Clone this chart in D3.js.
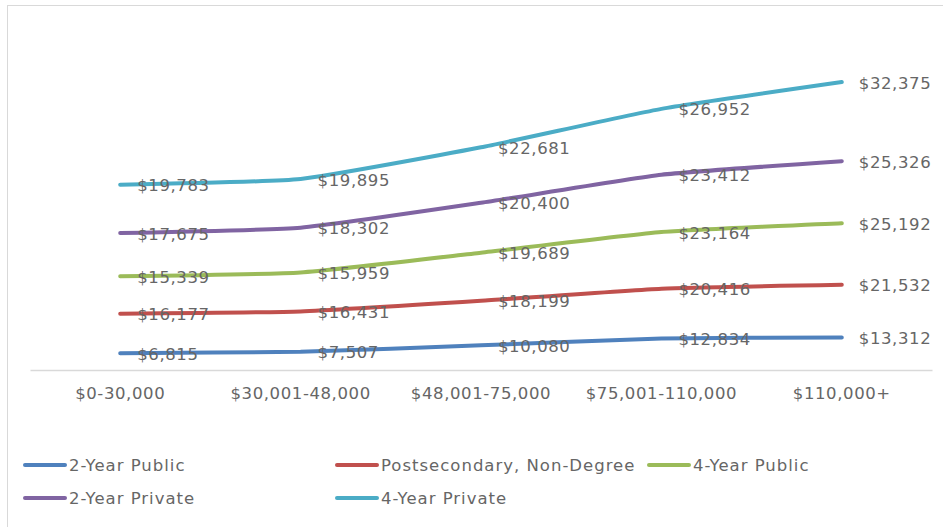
<!DOCTYPE html>
<html>
<head>
<meta charset="utf-8">
<script src="https://cdn.jsdelivr.net/npm/d3@7"></script>
<style>
  body { margin: 0; background: #fff; }
  svg { display: block; font-family: "DejaVu Sans", sans-serif; }
</style>
</head>
<body>
<svg id="chart" width="943" height="527"></svg>
<script>
// income brackets on the x axis
const categories = ['$0-30,000', '$30,001-48,000', '$48,001-75,000', '$75,001-110,000', '$110,000+'];

// series names, in stacking order (bottom first)
const seriesNames = ['2-Year Public', 'Postsecondary, Non-Degree', '4-Year Public', '2-Year Private', '4-Year Private'];

// values per series
const twoYearPublic   = [6815, 7507, 10080, 12834, 13312];
const postsecondary   = [16177, 16431, 18199, 20416, 21532];
const fourYearPublic  = [15339, 15959, 19689, 23164, 25192];
const twoYearPrivate  = [17675, 18302, 20400, 23412, 25326];
const fourYearPrivate = [19783, 19895, 22681, 26952, 32375];

const seriesValues = [twoYearPublic, postsecondary, fourYearPublic, twoYearPrivate, fourYearPrivate];
const colors = ['#4f81bd', '#c0504d', '#9bbb59', '#8064a2', '#4bacc6'];

const svg = d3.select('#chart');
const textColor = '#666666';
const fontSize = '16.5px';
const spacing = '0.6px';

// outer chart border (cropped on the right and bottom)
svg.append('rect')
    .attr('x', 7.5).attr('y', 5.5)
    .attr('width', 960).attr('height', 560)
    .attr('fill', 'none')
    .attr('stroke', '#d9d9d9')
    .attr('stroke-width', 1);

const plot = { left: 30, right: 932, top: 27.6, bottom: 370 };

const x = d3.scaleBand()
    .domain(categories)
    .range([plot.left, plot.right]);

// stacked line chart: cumulative totals
const stacked = d3.stack()
    .keys(d3.range(seriesNames.length))
    .value((d, k) => seriesValues[k][d])(d3.range(categories.length));

const y = d3.scaleLinear()
    .domain([0, 140000])
    .range([plot.bottom, plot.top]);

// x axis
const xAxis = svg.append('g')
    .attr('transform', `translate(0,${plot.bottom})`)
    .call(d3.axisBottom(x).tickSize(0).tickPadding(17));
xAxis.select('.domain').attr('stroke', '#d9d9d9').attr('stroke-width', 1.3);
xAxis.selectAll('text')
    .attr('fill', textColor)
    .style('font-size', fontSize)
    .style('letter-spacing', spacing)
    .style('font-family', '"DejaVu Sans", sans-serif');

const cx = d => x(d) + x.bandwidth() / 2;

const line = d3.line()
    .x((d, i) => cx(categories[i]))
    .y(d => y(d[1]))
    .curve(d3.curveCardinal.tension(0.55));

svg.append('g')
    .selectAll('path')
    .data(stacked)
    .join('path')
    .attr('fill', 'none')
    .attr('stroke', (d, i) => colors[i])
    .attr('stroke-width', 4)
    .attr('stroke-linecap', 'round')
    .attr('d', d => line(d));

// data labels to the right of each point
svg.append('g')
    .selectAll('g')
    .data(stacked)
    .join('g')
    .selectAll('text')
    .data((d, k) => d.map((p, i) => ({ k, i, top: p[1] })))
    .join('text')
    .attr('x', d => cx(categories[d.i]) + 17)
    .attr('y', d => y(d.top))
    .attr('dy', '0.4em')
    .attr('fill', textColor)
    .style('font-size', fontSize)
    .style('letter-spacing', spacing)
    .text(d => '$' + d3.format(',')(seriesValues[d.k][d.i]));

// legend
const legendPos = [
    { x: 24, y: 465 }, { x: 336, y: 465 }, { x: 648, y: 465 },
    { x: 24, y: 498 }, { x: 336, y: 498 }
];
const legend = svg.append('g')
    .selectAll('g')
    .data(seriesNames)
    .join('g')
    .attr('transform', (d, i) => `translate(${legendPos[i].x},${legendPos[i].y})`);

legend.append('line')
    .attr('x1', 1).attr('x2', 41)
    .attr('y1', 0).attr('y2', 0)
    .attr('stroke', (d, i) => colors[i])
    .attr('stroke-width', 4)
    .attr('stroke-linecap', 'round');

legend.append('text')
    .attr('x', 45)
    .attr('dy', '0.36em')
    .attr('fill', textColor)
    .style('font-size', fontSize)
    .style('letter-spacing', '1px')
    .text(d => d);
</script>
</body>
</html>
